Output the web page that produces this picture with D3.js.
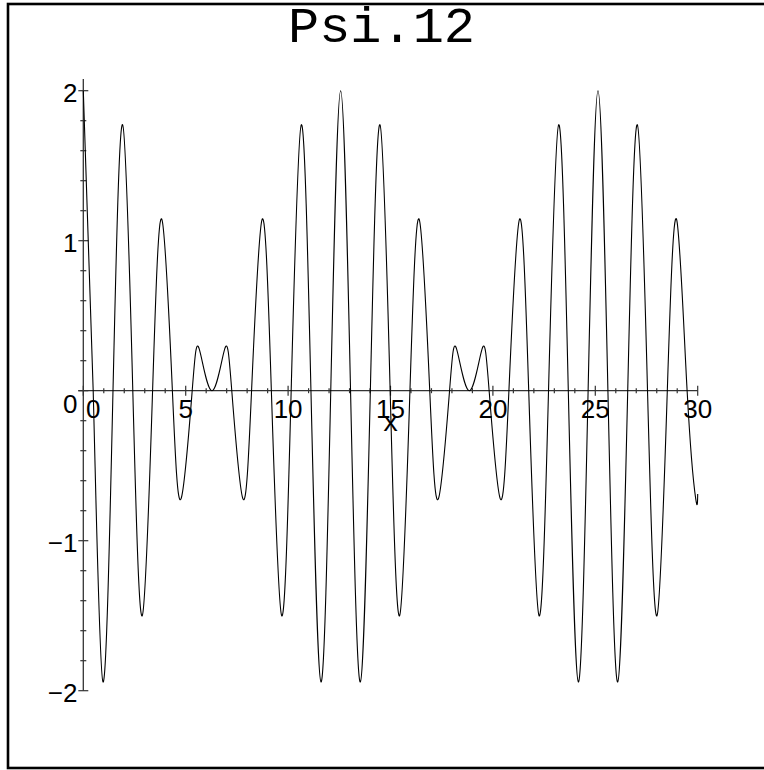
<!DOCTYPE html>
<html>
<head>
<meta charset="utf-8">
<script src="https://cdn.jsdelivr.net/npm/d3@7"></script>
<style>
  html, body { margin: 0; padding: 0; background: #fff; }
  svg { display: block; }
</style>
</head>
<body>
<svg id="chart" width="764" height="770"></svg>
<script>
// ---- Data (extrema and zero crossings of the curve) ----
const xValues = [
  0, 0.483, 0.961, 1.450, 1.921, 2.417, 2.879, 3.383, 3.833, 4.350, 4.771, 5.317, 5.660, 6.283,
  6.906, 7.250, 7.795, 8.216, 8.734, 9.183, 9.687, 10.150, 10.645, 11.116, 11.605, 12.083, 12.566,
  13.049, 13.527, 14.016, 14.487, 14.983, 15.445, 15.949, 16.399, 16.916, 17.337, 17.883, 18.226, 18.849,
  19.472, 19.816, 20.361, 20.782, 21.300, 21.749, 22.253, 22.716, 23.211, 23.682, 24.171, 24.649, 25.132,
  25.616, 26.094, 26.583, 27.054, 27.550, 28.012, 28.516, 28.966, 29.483, 29.904, 30
];
const yValues = [
  2, 0, -1.942, 0, 1.773, 0, -1.50, 0, 1.143, 0, -0.721, 0, 0.279, 0,
  0.279, 0, -0.721, 0, 1.143, 0, -1.50, 0, 1.773, 0, -1.942, 0, 2,
  0, -1.942, 0, 1.773, 0, -1.50, 0, 1.143, 0, -0.721, 0, 0.279, 0,
  0.279, 0, -0.721, 0, 1.143, 0, -1.50, 0, 1.773, 0, -1.942, 0, 2,
  0, -1.942, 0, 1.773, 0, -1.50, 0, 1.143, 0, -0.721, -0.689
];
const xMajorTicks = [0, 5, 10, 15, 20, 25, 30];
const xTickLabels = ["0", "5", "10", "15", "20", "25", "30"];
const yMajorTicks = [-2, -1, 0, 1, 2];
const yTickLabels = ["\u22122", "\u22121", "0", "1", "2"];
const title = "Psi.12";
const xLabel = "x";

// ---- Layout ----
const svg = d3.select("#chart");
const x = d3.scaleLinear().domain([0, 30]).range([83.3, 697.7]);
const y = d3.scaleLinear().domain([-2, 2]).range([690.7, 90.7]);

// frame
svg.append("rect")
  .attr("x", 8).attr("y", 4).attr("width", 770).attr("height", 764)
  .attr("fill", "none").attr("stroke", "#000").attr("stroke-width", 2.6);

// title
svg.append("text")
  .attr("x", 288).attr("y", 42)
  .attr("font-family", "'Liberation Mono', 'DejaVu Sans Mono', monospace")
  .attr("font-size", 50)
  .attr("textLength", 187).attr("lengthAdjust", "spacingAndGlyphs")
  .attr("fill", "#000")
  .text(title);

const axisColor = "#333";
const g = svg.append("g");

// x axis line
g.append("line")
  .attr("x1", x(0) - 5).attr("x2", x(30))
  .attr("y1", y(0)).attr("y2", y(0))
  .attr("stroke", axisColor).attr("stroke-width", 1.3);

// y axis line
g.append("line")
  .attr("x1", x(0)).attr("x2", x(0))
  .attr("y1", y(-2)).attr("y2", y(2.078))
  .attr("stroke", axisColor).attr("stroke-width", 1.3);

// x ticks
const xMinor = d3.range(0, 31, 1).filter(v => v % 5 !== 0);
g.selectAll(".xminor").data(xMinor).enter().append("line")
  .attr("x1", d => x(d)).attr("x2", d => x(d))
  .attr("y1", y(0) - 2.5).attr("y2", y(0) + 2.5)
  .attr("stroke", axisColor).attr("stroke-width", 1.2);
g.selectAll(".xmajor").data(xMajorTicks).enter().append("line")
  .attr("x1", d => x(d)).attr("x2", d => x(d))
  .attr("y1", y(0) - 5).attr("y2", y(0) + 5)
  .attr("stroke", axisColor).attr("stroke-width", 1.2);

// y ticks
const yMinor = d3.range(-2, 2.01, 0.2).map(v => Math.round(v * 10) / 10).filter(v => Math.abs(v - Math.round(v)) > 0.01);
g.selectAll(".yminor").data(yMinor).enter().append("line")
  .attr("x1", x(0) - 3).attr("x2", x(0) + 3)
  .attr("y1", d => y(d)).attr("y2", d => y(d))
  .attr("stroke", axisColor).attr("stroke-width", 1.2);
g.selectAll(".ymajor").data(yMajorTicks).enter().append("line")
  .attr("x1", x(0) - 5).attr("x2", x(0) + 5)
  .attr("y1", d => y(d)).attr("y2", d => y(d))
  .attr("stroke", axisColor).attr("stroke-width", 1.2);

const labelFont = "'Liberation Sans', Arial, sans-serif";

// x tick labels (skip 0 handled with offset)
g.selectAll(".xlab").data(xMajorTicks).enter().append("text")
  .attr("x", (d, i) => x(d) + (d === 0 ? 10 : 0))
  .attr("y", 418)
  .attr("text-anchor", "middle")
  .attr("font-family", labelFont).attr("font-size", 26)
  .attr("fill", "#000")
  .text((d, i) => xTickLabels[i]);

// y tick labels
g.selectAll(".ylab").data(yMajorTicks).enter().append("text")
  .attr("x", 77.5)
  .attr("y", d => d === 0 ? y(0) + 22.5 : y(d) + 11)
  .attr("text-anchor", "end")
  .attr("font-family", labelFont).attr("font-size", 26)
  .attr("fill", "#000")
  .text((d, i) => yTickLabels[i]);

// x axis label
g.append("text")
  .attr("x", x(15)).attr("y", 431)
  .attr("text-anchor", "middle")
  .attr("font-family", "'Liberation Mono', 'DejaVu Sans Mono', monospace")
  .attr("font-size", 27)
  .attr("fill", "#000")
  .text(xLabel);

// curve
const pts = xValues.map((v, i) => [v, yValues[i]]);
const line = d3.line().x(d => x(d[0])).y(d => y(d[1])).curve(d3.curveNatural);
svg.append("path")
  .attr("d", line(pts))
  .attr("fill", "none").attr("stroke", "#000").attr("stroke-width", 1.1);
</script>
</body>
</html>
